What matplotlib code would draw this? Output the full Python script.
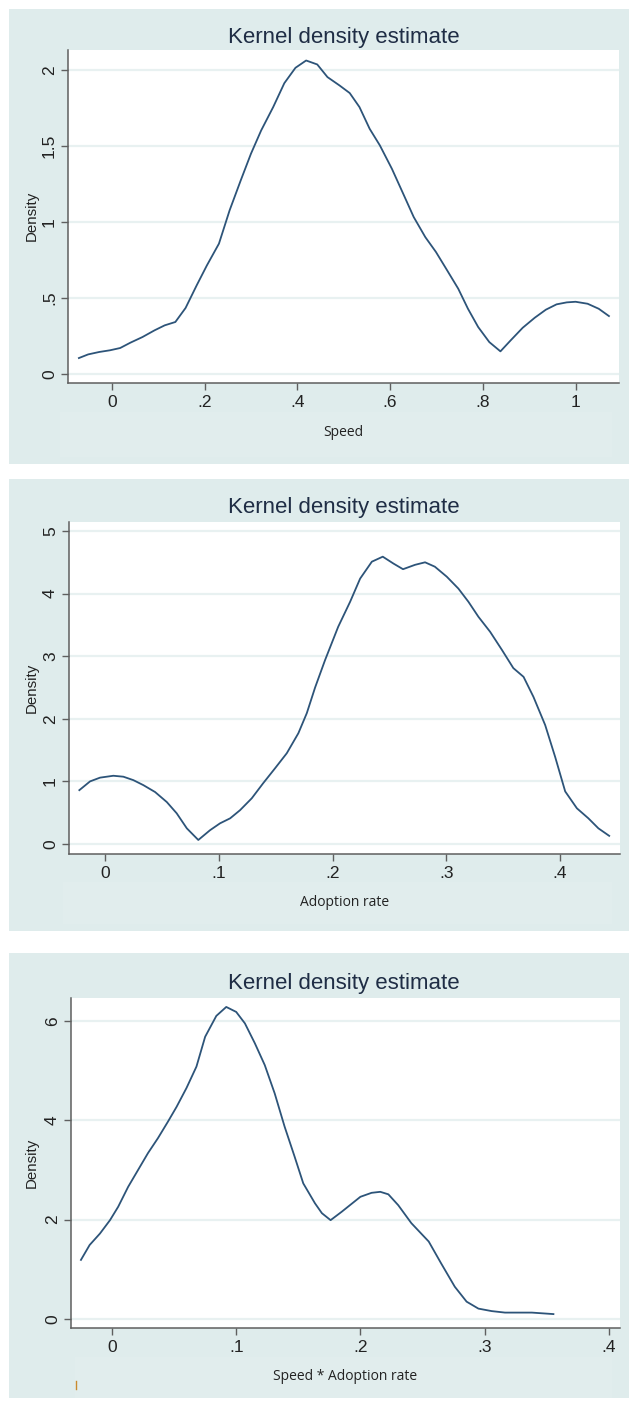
import numpy as np
import matplotlib
matplotlib.use("Agg")
import matplotlib.pyplot as plt
from matplotlib.patches import Rectangle

# --- data ----------------------------------------------------------------
speed_x = [-0.071, -0.051, -0.027, -0.004, 0.018, 0.040, 0.066, 0.092, 0.114,
           0.137, 0.159, 0.183, 0.205, 0.231, 0.254, 0.278, 0.300, 0.322,
           0.348, 0.372, 0.396, 0.419, 0.443, 0.465, 0.491, 0.513, 0.534,
           0.556, 0.578, 0.604, 0.630, 0.651, 0.676, 0.699, 0.721, 0.747,
           0.768, 0.790, 0.814, 0.838, 0.860, 0.886, 0.912, 0.936, 0.959,
           0.981, 1.000, 1.026, 1.050, 1.072]
speed_d = [0.105, 0.129, 0.145, 0.156, 0.171, 0.206, 0.243, 0.287, 0.320,
           0.342, 0.434, 0.583, 0.714, 0.857, 1.076, 1.273, 1.448, 1.601,
           1.755, 1.912, 2.013, 2.061, 2.035, 1.952, 1.897, 1.847, 1.755,
           1.612, 1.503, 1.349, 1.174, 1.032, 0.900, 0.802, 0.692, 0.561,
           0.429, 0.309, 0.210, 0.149, 0.221, 0.304, 0.370, 0.423, 0.458,
           0.471, 0.475, 0.462, 0.429, 0.381]

adopt_x = [-0.0226, -0.0132, -0.0044, 0.0073, 0.0161, 0.0249, 0.0337, 0.044,
           0.0543, 0.063, 0.0719, 0.082, 0.0923, 0.1011, 0.110, 0.1187, 0.129,
           0.139, 0.1495, 0.1598, 0.170, 0.1774, 0.1847, 0.1935, 0.205,
           0.2155, 0.2243, 0.2346, 0.2442, 0.2536, 0.262, 0.2726, 0.2814,
           0.290, 0.3005, 0.3107, 0.3195, 0.3283, 0.3386, 0.349, 0.359, 0.368,
           0.3767, 0.387, 0.3958, 0.4046, 0.4149, 0.425, 0.4338, 0.4433]
adopt_d = [0.86, 1.00, 1.06, 1.09, 1.075, 1.02, 0.94, 0.83, 0.67, 0.49, 0.25,
           0.064, 0.22, 0.33, 0.41, 0.54, 0.73, 0.97, 1.21, 1.45, 1.77, 2.09,
           2.50, 2.94, 3.47, 3.87, 4.24, 4.51, 4.59, 4.48, 4.39, 4.46, 4.50,
           4.43, 4.27, 4.08, 3.87, 3.63, 3.39, 3.10, 2.81, 2.67, 2.35, 1.90,
           1.39, 0.84, 0.57, 0.41, 0.25, 0.13]

inter_x = [-0.025, -0.018, -0.0097, -0.0016, 0.005, 0.013, 0.021, 0.029,
           0.037, 0.045, 0.052, 0.060, 0.068, 0.075, 0.084, 0.092, 0.100,
           0.107, 0.115, 0.123, 0.131, 0.139, 0.147, 0.154, 0.1634, 0.169,
           0.176, 0.185, 0.200, 0.209, 0.216, 0.2225, 0.2305, 0.241, 0.255,
           0.265, 0.276, 0.2855, 0.295, 0.3057, 0.3164, 0.338, 0.3554]
inter_d = [1.19, 1.49, 1.72, 1.99, 2.26, 2.66, 3.00, 3.34, 3.64, 3.97, 4.27,
           4.65, 5.08, 5.68, 6.10, 6.28, 6.18, 5.95, 5.55, 5.11, 4.54, 3.87,
           3.27, 2.73, 2.33, 2.13, 1.99, 2.16, 2.46, 2.54, 2.56, 2.51, 2.29,
           1.93, 1.56, 1.12, 0.65, 0.35, 0.21, 0.16, 0.13, 0.13, 0.10]

speed_ticks = [0, 0.2, 0.4, 0.6, 0.8, 1.0]
speed_ticklabels = ["0", ".2", ".4", ".6", ".8", "1"]
speed_yticks = [0, 0.5, 1, 1.5, 2]
speed_yticklabels = ["0", ".5", "1", "1.5", "2"]

adopt_ticks = [0, 0.1, 0.2, 0.3, 0.4]
adopt_ticklabels = ["0", ".1", ".2", ".3", ".4"]
adopt_yticks = [0, 1, 2, 3, 4, 5]
adopt_yticklabels = ["0", "1", "2", "3", "4", "5"]

inter_ticks = [0, 0.1, 0.2, 0.3, 0.4]
inter_ticklabels = ["0", ".1", ".2", ".3", ".4"]
inter_yticks = [0, 2, 4, 6]
inter_yticklabels = ["0", "2", "4", "6"]

# --- styling --------------------------------------------------------------
W, H = 630, 1401
BG = "#dfecec"
LINE = "#2d5479"
GRID = "#e8f1f1"
AXC = "#5f5f5f"
TXT = "#1f2d45"

fig = plt.figure(figsize=(W / 100, H / 100), dpi=100)
fig.patch.set_facecolor("white")


def frac(x0, y0, x1, y1):
    return [x0 / W, 1 - y1 / H, (x1 - x0) / W, (y1 - y0) / H]


def panel(top, bot, ax_box, x, y, xlim, ylim, xt, xtl, yt, ytl, xlabel,
          xlab_y, title_y, ylab_y, sub_box):
    # graph region (drawn under the axes)
    fig.patches.append(Rectangle((9 / W, 1 - bot / H), 620 / W, (bot - top) / H,
                                 transform=fig.transFigure, facecolor=BG,
                                 edgecolor="none", zorder=-3))
    sx0, sy0, sx1, sy1 = sub_box
    fig.patches.append(Rectangle((sx0 / W, 1 - sy1 / H), (sx1 - sx0) / W,
                                 (sy1 - sy0) / H, transform=fig.transFigure,
                                 facecolor="#e1eded", edgecolor="none",
                                 zorder=-2))
    ax = fig.add_axes(frac(*ax_box))
    ax.set_facecolor("white")
    ax.plot(x, y, color=LINE, lw=1.3, solid_joinstyle="round")
    ax.set_xlim(*xlim)
    ax.set_ylim(*ylim)
    ax.set_xticks(xt)
    ax.set_xticklabels(xtl)
    ax.set_yticks(yt)
    ax.set_yticklabels(ytl, rotation=90, va="center")
    ax.grid(axis="y", color=GRID, lw=1.6)
    ax.set_axisbelow(True)
    for s in ["top", "right"]:
        ax.spines[s].set_visible(False)
    for s in ["left", "bottom"]:
        ax.spines[s].set_color(AXC)
        ax.spines[s].set_linewidth(1.1)
    ax.tick_params(length=5, width=1.0, color=AXC, labelsize=12.5,
                   labelcolor="#222222")
    ax.tick_params(axis="x", pad=4)
    ax.tick_params(axis="y", pad=3)
    for lab in ax.get_xticklabels() + ax.get_yticklabels():
        lab.set_family("Liberation Sans")
    cx = (ax_box[0] + ax_box[2]) / 2
    fig.text(344 / W, 1 - title_y / H, "Kernel density estimate",
             ha="center", va="center", fontsize=16, color=TXT,
             family="Liberation Sans")
    fig.text(32 / W, 1 - ylab_y / H, "Density", rotation=90, ha="center",
             va="center", fontsize=10.8, color="#222222",
             family="Liberation Sans")
    fig.text(cx / W, 1 - xlab_y / H, xlabel, ha="center", va="center",
             fontsize=10, color="#222222", family="Open Sans")
    return ax


panel(9, 464, (68, 50, 619, 383), speed_x, speed_d, (-0.0945, 1.0937),
      (-0.059, 2.13), speed_ticks, speed_ticklabels, speed_yticks,
      speed_yticklabels, "Speed", 433, 37, 216, (60, 412, 612, 457))

panel(479, 931, (69, 522, 620, 854), adopt_x, adopt_d, (-0.0317, 0.4528),
      (-0.16, 5.144), adopt_ticks, adopt_ticklabels, adopt_yticks,
      adopt_yticklabels, "Adoption rate", 903, 507, 688, (63, 882, 612, 924))

panel(953, 1398, (71, 998, 620, 1328), inter_x, inter_d, (-0.033, 0.409),
      (-0.18, 6.46), inter_ticks, inter_ticklabels, inter_yticks,
      inter_yticklabels, "Speed * Adoption rate", 1376, 983, 1163,
      (75, 1357, 612, 1398))

# small stray mark in the last panel
fig.add_artist(plt.Line2D([75.5 / W, 75.5 / W], [1 - 1381 / H, 1 - 1389 / H],
                          color="#c98a2e", lw=1.0))

fig.savefig("out.png", dpi=100, facecolor=fig.get_facecolor())
